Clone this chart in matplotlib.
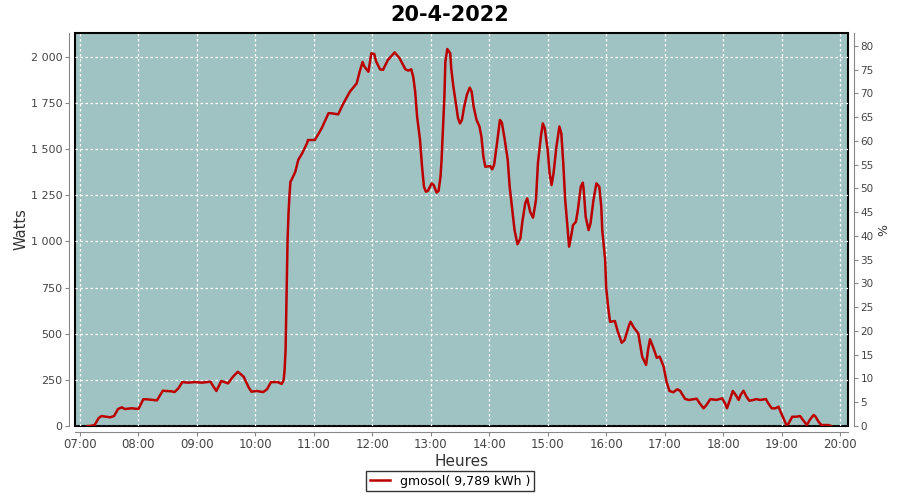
import matplotlib
matplotlib.use("Agg")
import matplotlib.pyplot as plt
from matplotlib.ticker import FuncFormatter, MultipleLocator

title = "20-4-2022"
series_name = "gmosol( 9,789 kWh )"

times = [
    "07:08", "07:10", "07:15", "07:19", "07:22", "07:31", "07:35", "07:39", "07:43", "07:46",
    "07:53", "08:00", "08:05", "08:08", "08:19", "08:25", "08:34", "08:37", "08:41", "08:45",
    "08:51", "08:58", "09:05", "09:14", "09:17", "09:20", "09:25", "09:32", "09:37", "09:42",
    "09:48", "09:53", "09:56", "10:01", "10:08", "10:12", "10:16", "10:23", "10:27", "10:29",
    "10:30", "10:31", "10:32", "10:33", "10:34", "10:35", "10:36", "10:37", "10:41", "10:44",
    "10:48", "10:53", "10:54", "11:01", "11:08", "11:15", "11:18", "11:25", "11:30", "11:37",
    "11:44", "11:47", "11:50", "11:52", "11:56", "11:59", "12:02", "12:04", "12:08", "12:11",
    "12:16", "12:23", "12:28", "12:34", "12:37", "12:40", "12:42", "12:44", "12:46", "12:49",
    "12:51", "12:52", "12:53", "12:55", "12:57", "13:01", "13:03", "13:06", "13:08", "13:10",
    "13:11", "13:12", "13:14", "13:15", "13:17", "13:20", "13:21", "13:23", "13:26", "13:28",
    "13:30", "13:32", "13:34", "13:37", "13:40", "13:42", "13:44", "13:47", "13:50", "13:52",
    "13:54", "13:56", "14:01", "14:03", "14:05", "14:08", "14:11", "14:13", "14:16", "14:19",
    "14:21", "14:24", "14:26", "14:29", "14:32", "14:34", "14:37", "14:39", "14:42", "14:45",
    "14:48", "14:50", "14:53", "14:55", "14:57", "15:00", "15:02", "15:04", "15:06", "15:09",
    "15:12", "15:14", "15:16", "15:18", "15:20", "15:22", "15:24", "15:26", "15:29", "15:31",
    "15:34", "15:36", "15:37", "15:39", "15:42", "15:44", "15:47", "15:50", "15:53", "15:55",
    "15:56", "15:59", "16:00", "16:02", "16:04", "16:09", "16:12", "16:16", "16:19", "16:23",
    "16:25", "16:29", "16:33", "16:37", "16:41", "16:43", "16:45", "16:48", "16:52", "16:55",
    "16:59", "17:02", "17:05", "17:09", "17:13", "17:16", "17:21", "17:25", "17:33", "17:36",
    "17:40", "17:43", "17:47", "17:53", "17:59", "18:02", "18:04", "18:07", "18:10", "18:13",
    "18:16", "18:18", "18:21", "18:24", "18:27", "18:31", "18:34", "18:38", "18:44", "18:46",
    "18:50", "18:54", "18:57", "18:59", "19:02", "19:05", "19:07", "19:11", "19:15", "19:19",
    "19:22", "19:26", "19:29", "19:33", "19:35", "19:38", "19:41", "19:48", "19:51",
]
watts = [
    0, 0, 5, 42, 54, 47, 54, 92, 101, 92,
    96, 92, 145, 145, 139, 191, 188, 184, 204, 238,
    235, 238, 235, 240, 213, 190, 244, 231, 267, 294,
    267, 210, 186, 190, 184, 199, 238, 238, 228, 249,
    304, 412, 700, 1000, 1150, 1250, 1324, 1333, 1378, 1442,
    1478, 1532, 1550, 1550, 1613, 1695, 1695, 1689, 1745, 1812,
    1857, 1920, 1973, 1947, 1920, 2020, 2016, 1975, 1933, 1930,
    1984, 2025, 1993, 1933, 1926, 1933, 1893, 1812, 1676, 1550,
    1410, 1351, 1297, 1270, 1274, 1315, 1306, 1265, 1274, 1351,
    1432, 1550, 1785, 1975, 2043, 2020, 1938, 1848, 1740, 1668,
    1640, 1659, 1722, 1794, 1834, 1812, 1731, 1659, 1623, 1568,
    1460, 1405, 1409, 1391, 1415, 1532, 1659, 1644, 1550, 1442,
    1297, 1153, 1062, 985, 1017, 1107, 1207, 1234, 1161, 1129,
    1225, 1424, 1568, 1640, 1613, 1496, 1369, 1306, 1369, 1514,
    1623, 1586, 1424, 1225, 1099, 972, 1026, 1089, 1107, 1171,
    1297, 1319, 1279, 1134, 1062, 1099, 1225, 1315, 1297, 1189,
    1062, 900, 755, 647, 565, 569, 511, 451, 466, 538,
    565, 529, 502, 376, 331, 412, 470, 430, 370, 376,
    322, 240, 190, 183, 199, 190, 147, 141, 148, 123,
    96, 114, 146, 141, 150, 123, 96, 141, 190, 168,
    141, 168, 191, 159, 137, 141, 146, 141, 146, 126,
    96, 96, 105, 77, 42, 5, 11, 50, 50, 54,
    33, 5, 33, 60, 50, 23, 5, 5, 0,
]

hours = [int(t[:2]) + int(t[3:]) / 60 for t in times]

fig = plt.figure(figsize=(9, 5), dpi=100)
ax = fig.add_axes([0.0833, 0.148, 0.8589, 0.786])
ax.set_facecolor("#9fc3c2")
ax.patch.set_edgecolor("black")
ax.patch.set_linewidth(1.5)

ax.plot(hours, watts, color="#bb0000", linewidth=1.8, label=series_name)

ax.set_xlim(6.914, 20.137)
ax.set_ylim(0, 2130)
ax.xaxis.set_major_locator(MultipleLocator(1))
ax.xaxis.set_major_formatter(FuncFormatter(lambda v, p: "%02d:00" % round(v)))
ax.yaxis.set_major_locator(MultipleLocator(250))
ax.yaxis.set_major_formatter(FuncFormatter(lambda v, p: "{:,}".format(int(v)).replace(",", " ")))
ax.grid(True, color="white", linestyle=(0, (2, 2)), linewidth=0.9)

ax2 = ax.twinx()
ax2.set_ylim(0, 82.7)
ax2.yaxis.set_major_locator(MultipleLocator(5))

for a in (ax, ax2):
    for s in a.spines.values():
        s.set_visible(False)
    a.tick_params(colors="#888888", labelcolor="#444444", labelsize=8.5, length=3, pad=2)
ax.tick_params(axis="y", labelsize=8)
ax.spines["left"].set_visible(True)
ax.spines["left"].set_position(("outward", 4))
ax.spines["left"].set_color("#888888")
ax.spines["bottom"].set_visible(True)
ax.spines["bottom"].set_position(("outward", 4))
ax.spines["bottom"].set_color("#888888")
ax2.spines["right"].set_visible(True)
ax2.spines["right"].set_position(("outward", 4))
ax2.spines["right"].set_color("#888888")
ax2.tick_params(labelsize=7.5)

ax.set_ylabel("Watts", fontsize=10.5, color="#333333")
ax.yaxis.set_label_coords(-0.06, 0.5)
ax.set_xlabel("Heures", fontsize=11, color="#333333", labelpad=2)
ax2.set_ylabel("%", fontsize=9, color="#333333")
ax2.yaxis.set_label_coords(1.038, 0.5)

fig.suptitle(title, fontsize=15, fontweight="bold", y=0.99)

leg = fig.legend(loc="lower center", bbox_to_anchor=(0.5, 0.005), fontsize=9,
                 frameon=True, fancybox=False, handlelength=1.6, borderpad=0.3)
leg.get_frame().set_edgecolor("black")
leg.get_frame().set_linewidth(1.0)

fig.savefig("out.png", dpi=100)
